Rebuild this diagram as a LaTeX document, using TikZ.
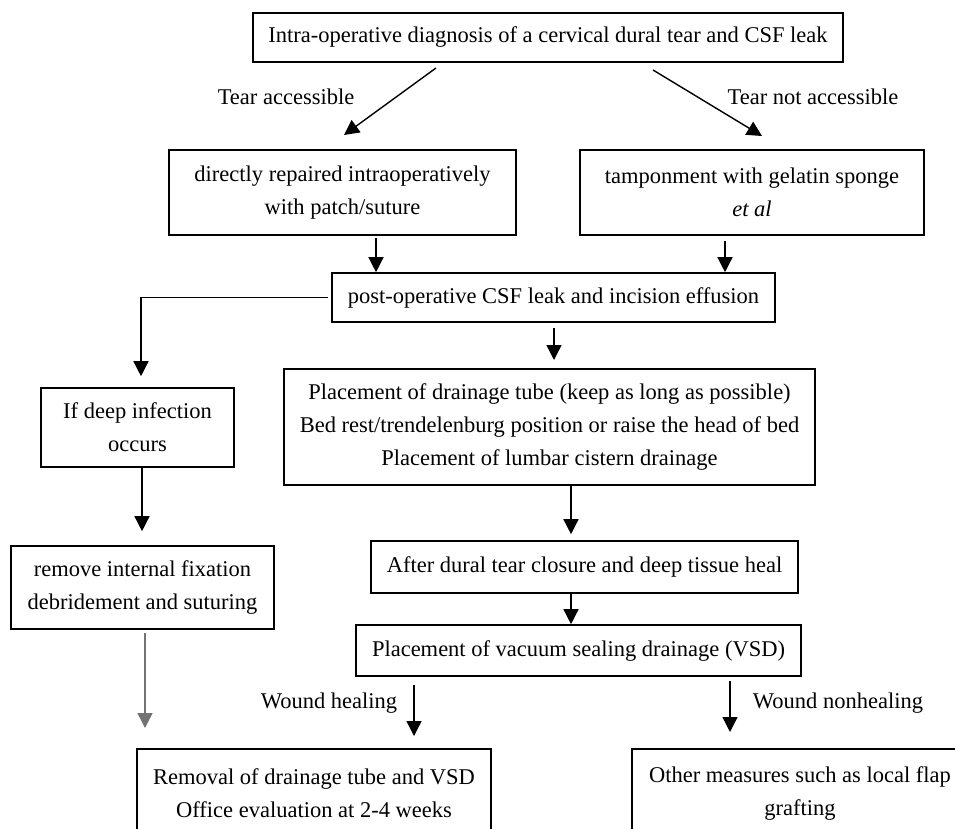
\documentclass[tikz,border=0pt]{standalone}
\usepackage{fontspec}
\setmainfont{Liberation Serif}
\usetikzlibrary{arrows.meta}
\begin{document}
\begin{tikzpicture}[x=1pt,y=-1pt,
 box/.style={draw,line width=1.6pt,align=center,inner sep=0pt,font=\fontsize{22.5}{33}\selectfont},
 lbl/.style={inner sep=0pt,font=\fontsize{22.5}{26}\selectfont},
 arr/.style={line width=1.4pt,-{Triangle[length=15pt,width=15pt]}}]
\clip (0,0) rectangle (955,829);
\fill[white] (0,0) rectangle (955,829);
\node[box,minimum width=590pt,minimum height=49pt] (top) at (548,37.5) {Intra-operative diagnosis of a cervical dural tear and CSF leak};
\node[box,minimum width=347pt,minimum height=85pt] (L) at (342.5,192.5) {directly repaired intraoperatively\\with patch/suture};
\node[box,minimum width=344pt,minimum height=85pt] (R) at (752,192.5) {tamponment with gelatin sponge\\\textit{et al}};
\node[box,minimum width=443pt,minimum height=49pt] (mid) at (553.5,297.5) {post-operative CSF leak and incision effusion};
\node[box,minimum width=531pt,minimum height=116pt] (big) at (549.5,427) {Placement of drainage tube (keep as long as possible)\\Bed rest/trendelenburg position or raise the head of bed\\Placement of lumbar cistern drainage};
\node[box,minimum width=193pt,minimum height=79pt] (inf) at (137.5,427.5) {If deep infection\\occurs};
\node[box,minimum width=263pt,minimum height=83pt] (rem) at (142.5,587.5) {remove internal fixation\\debridement and suturing};
\node[box,minimum width=427pt,minimum height=52pt] (after) at (584.5,567) {After dural tear closure and deep tissue heal};
\node[box,minimum width=445pt,minimum height=51pt] (vsd) at (578.5,650.5) {Placement of vacuum sealing drainage (VSD)};
\node[box,minimum width=354pt,minimum height=89pt] (bl) at (314,793.5) {Removal of drainage tube and VSD\\Office evaluation at 2-4 weeks};
\node[box,minimum width=336pt,minimum height=89pt] (br) at (800,793.5) {Other measures such as local flap\\grafting};

\node[lbl] (l1) at (286,97) {Tear accessible};
\node[lbl] (l2) at (813,97) {Tear not accessible};
\node[lbl] (l3) at (329,703) {Wound healing};
\node[lbl] (l4) at (838,703) {Wound nonhealing};

\coordinate (a1) at (436,68);
\coordinate (a2) at (344,135);
\coordinate (b1) at (653,70);
\coordinate (b2) at (762,136);
\coordinate (m1) at (554,328);
\coordinate (m2) at (554,360);
\coordinate (g1) at (145,633);
\coordinate (g2) at (145,728);
\coordinate (h1) at (414,685);
\coordinate (h2) at (414,736);
\coordinate (k1) at (730,681);
\coordinate (k2) at (730,732);

\draw[arr] (a1) -- (a2);
\draw[arr] (b1) -- (b2);
\draw[arr] ([xshift=33.5pt,yshift=-2pt]L.south) -- ([xshift=-177.5pt]mid.north);
\draw[arr] ([xshift=-27pt,yshift=-5pt]R.south) -- ([xshift=171.5pt]mid.north);
\draw[arr] ([xshift=-3pt]mid.west) -| ([xshift=3.5pt,yshift=11pt]inf.north);
\draw[arr] (m1) -- (m2);
\draw[arr] ([xshift=4.5pt]inf.south) -- ([xshift=-0.5pt,yshift=14pt]rem.north);
\draw[arr,draw=black!55] (g1) -- (g2);
\draw[arr] ([xshift=21.5pt]big.south) -- ([xshift=-13.5pt,yshift=6pt]after.north);
\draw[arr] ([xshift=-13.5pt]after.south) -- ([xshift=-7.5pt]vsd.north);
\draw[arr] (h1) -- (h2);
\draw[arr] (k1) -- (k2);
\end{tikzpicture}
\end{document}
